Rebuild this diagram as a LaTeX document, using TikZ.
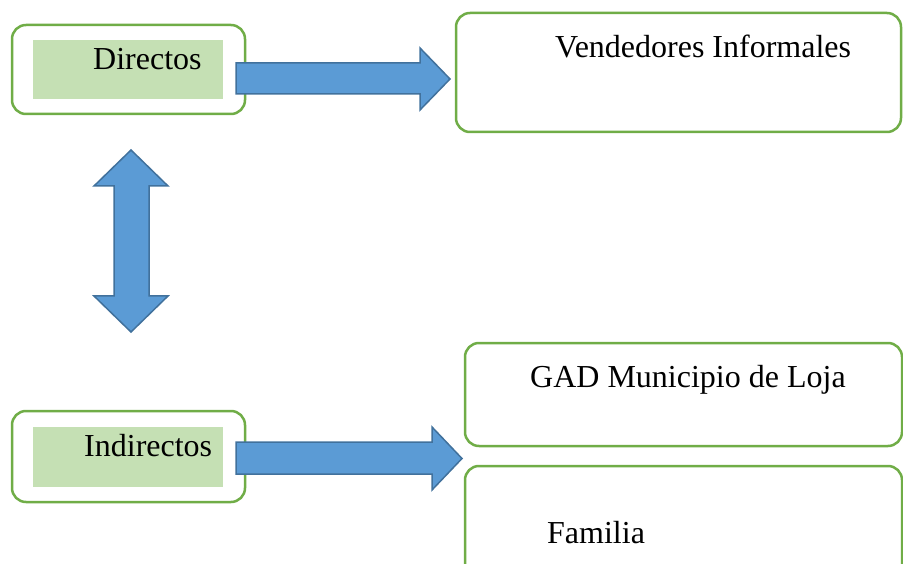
\documentclass[tikz,border=0pt]{standalone}
\usepackage{fontspec}
\setmainfont{Liberation Serif}
\definecolor{boxgreen}{HTML}{70AD47}
\definecolor{lightgreen}{HTML}{C5E0B4}
\definecolor{arrowfill}{HTML}{5B9BD5}
\definecolor{arrowline}{HTML}{41719C}
\begin{document}
\begin{tikzpicture}[x=1pt,y=-1pt,
  gbox/.style={draw=boxgreen, line width=2.5pt, rounded corners=14pt, fill=white, inner sep=0pt},
  gfill/.style={fill=lightgreen, inner sep=0pt},
  blockarrow/.style={fill=arrowfill, draw=arrowline, line width=1.5pt, line join=miter},
  lbl/.style={inner sep=0pt, anchor=base west, font=\fontsize{32}{38}\selectfont}]
\useasboundingbox (0,0) rectangle (903,564);
\clip (0,0) rectangle (903,564);
% boxes
\node[gbox, minimum width=233pt, minimum height=89pt] (dir) at (128.5,69.5) {};
\node[gfill, minimum width=190pt, minimum height=59pt] (dirf) at (128,69.5) {};
\node[gbox, minimum width=445pt, minimum height=119pt] (ven) at (678.5,72.5) {};
\node[gbox, minimum width=437pt, minimum height=103pt] (gad) at (683.5,394.5) {};
\node[gbox, minimum width=437pt, minimum height=134pt] (fam) at (683.5,533) {};
\node[gbox, minimum width=233pt, minimum height=91pt] (ind) at (128.5,456.5) {};
\node[gfill, minimum width=190pt, minimum height=60pt] (indf) at (128,457) {};
% labels
\node[lbl] (tdir) at (93,70) {Directos};
\node[lbl] (tven) at (555,58) {Vendedores Informales};
\node[lbl] (tgad) at (530,387) {GAD Municipio de Loja};
\node[lbl] (tind) at (84,456) {Indirectos};
\node[lbl] (tfam) at (547,543) {Familia};
% block arrows
\draw[blockarrow] (236,63) -- (420,63) -- (420,48) -- (450,79) -- (420,110) -- (420,94) -- (236,94) -- cycle;
\draw[blockarrow] (236,442) -- (432,442) -- (432,427) -- (462,458.5) -- (432,490) -- (432,474) -- (236,474) -- cycle;
\draw[blockarrow] (131,150) -- (168,186) -- (149,186) -- (149,296) -- (168,296) -- (131,332) -- (94,296) -- (114,296) -- (114,186) -- (94,186) -- cycle;
\end{tikzpicture}
\end{document}
